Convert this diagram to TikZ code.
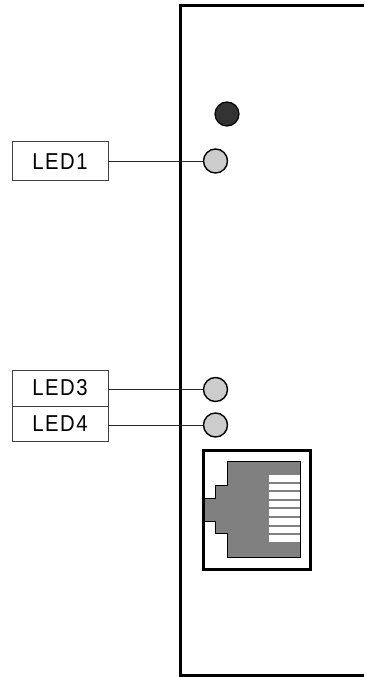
\documentclass[tikz,border=0pt]{standalone}
\usepackage{fontspec}
\setmainfont{Liberation Sans}
\newcommand{\spaced}[4]{\scalebox{0.88}[1]{#1\kern1.8pt#2\kern1.8pt#3\kern1.8pt#4}}
\begin{document}
\begin{tikzpicture}[x=1pt,y=-1pt,
  labelbox/.style={draw=black!75,line width=0.8pt,fill=white,minimum width=96pt,inner sep=0pt,font=\fontsize{23}{23}\selectfont},
  led/.style={circle,draw=black,line width=1.4pt,fill=black!20,minimum size=24pt,inner sep=0pt},
  darkled/.style={circle,draw=black,line width=1.2pt,fill=black!80,minimum size=24pt,inner sep=0pt},
  wire/.style={draw=black!85,line width=0.9pt},
  panel/.style={draw=black,line width=3pt}]
\useasboundingbox (0,0) rectangle (364,677);
% panel
\draw[panel] (364,5.3) -- (180,5.3) -- (180,675.5) -- (364,675.5);
% LEDs
\node[darkled] (pwr) at (227,114) {};
\node[led] (l1) at (215.5,161) {};
\node[led] (l3) at (215.5,389.5) {};
\node[led] (l4) at (215.5,425) {};
% labels
\node[labelbox,minimum height=39pt] (b1) at (60,161.2) {\spaced LED1};
\node[labelbox,minimum height=36pt] (b3) at (60,388) {\spaced LED3};
\node[labelbox,minimum height=35pt] (b4) at (60,423.5) {\spaced LED4};
\draw[wire] (b1.east |- l1) -- (l1.west);
\draw[wire] (b3.east |- l3) -- (l3.west);
\draw[wire] (b4.east |- l4) -- (l4.west);
% RJ45
\draw[fill=black!50,draw=black,line width=0.8pt]
  (227.3,461.7) -- (227.3,485) -- (215,485) -- (215,498.3) -- (204,498.3)
  -- (204,521.7) -- (215,521.7) -- (215,533.3) -- (227.3,533.3)
  -- (227.3,557.7) -- (300,557.7) -- (300,461.7) -- cycle;
\foreach \i in {0,...,7}
  \fill[white] (269,475+\i*8.6) rectangle (300,481.6+\i*8.6);
\draw[line width=3pt] (203.3,450.5) rectangle (310,569);
\end{tikzpicture}
\end{document}
